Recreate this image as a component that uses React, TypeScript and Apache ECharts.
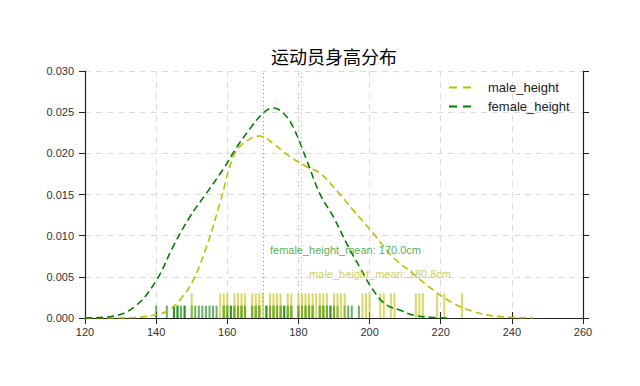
import React, { useEffect, useRef } from "react";
import * as echarts from "echarts";

const title = "运动员身高分布";
const xTicks = [120, 260, 20];
const yTicks = [0, 0.03, 0.005];

const maleX = [120, 130, 137.3, 142.9, 146.7, 150.4, 154.2, 157.9, 161.7, 164.5, 169.2, 172.9, 177.6, 182.3, 186, 190.7, 195.4, 201, 206.6, 212.2, 217.9, 223.5, 229.1, 235.7, 246];
const maleDensity = [0, 0, 0.0002, 0.0008, 0.0022, 0.0046, 0.0087, 0.0139, 0.0196, 0.0212, 0.0221, 0.0212, 0.0196, 0.0184, 0.0176, 0.0155, 0.0131, 0.0103, 0.0074, 0.0054, 0.0034, 0.0018, 0.0008, 0.0002, 0];

const femaleX = [120, 127, 134, 140.1, 144.8, 149.5, 154.2, 158.9, 162.6, 166.4, 170.1, 172.9, 175.7, 178.5, 182.3, 186, 189.8, 193.5, 197.2, 201, 204.7, 208.5, 212.2, 217, 222];
const femaleDensity = [0, 0.00016, 0.0014, 0.0046, 0.0087, 0.0123, 0.0152, 0.0181, 0.0207, 0.023, 0.0249, 0.0255, 0.0249, 0.0232, 0.0192, 0.0151, 0.0123, 0.0091, 0.0062, 0.0034, 0.0016, 0.00097, 0.00036, 0.0001, 0];

const maleRug = [150, 158, 159, 160, 162, 163, 164, 165, 167, 168, 169, 170, 172, 173, 174, 175, 177, 178, 180, 181, 182, 183, 184, 185, 186, 187, 188, 190, 191, 192, 193, 198, 199, 200, 203, 204, 206, 207, 213, 214, 215, 219, 221, 226];
const femaleRug = [140, 143, 145, 145, 146, 146, 147, 148, 148, 150, 151, 152, 153, 154, 155, 156, 157, 159, 159, 160, 160, 161, 161, 162, 162, 163, 163, 164, 164, 165, 165, 167, 167, 168, 168, 169, 169, 171, 171, 172, 172, 173, 173, 174, 174, 175, 175, 176, 176, 177, 177, 178, 178, 180, 180, 181, 181, 182, 182, 183, 183, 184, 184, 186, 186, 187, 187, 188, 188, 189, 189, 190, 190, 191, 193, 194, 195, 197];
const maleRugHeight = 0.003;
const femaleRugHeight = 0.0015;

const femaleMean = 170.0;
const maleMean = 180.8;
const femaleLabelPos = [172, 0.0083];
const maleLabelPos = [183, 0.0053];

const MALE = "#bfbf00";
const FEMALE = "#008000";
const DASH_ICON = "path://M0,0 L8,0 L8,2 L0,2 Z M14,0 L22,0 L22,2 L14,2 Z";

function zip(xs: number[], ys: number[]) {
  return xs.map((x, i) => [x, ys[i]]);
}

function rugSeries(name: string, values: number[], h: number, color: string) {
  return {
    type: "custom",
    name,
    silent: true,
    z: 1,
    data: values.map((v) => [v, h]),
    encode: { x: 0, y: 1 },
    renderItem: (params: any, api: any) => {
      const x = api.value(0);
      const hh = api.value(1);
      const p0 = api.coord([x, 0]);
      const p1 = api.coord([x, hh]);
      return {
        type: "line",
        shape: { x1: p0[0], y1: p0[1], x2: p1[0], y2: p1[1] },
        style: { stroke: color, lineWidth: 2, opacity: 0.6 },
      };
    },
  };
}

export default function App() {
  const ref = useRef<HTMLDivElement>(null);
  useEffect(() => {
    if (!ref.current) return;
    const chart = echarts.init(ref.current, null, { renderer: "svg" });
    const axisFont = { fontFamily: "Liberation Sans, Arial, sans-serif", fontSize: 11, color: "#333" };
    const axisLine = { show: true, lineStyle: { color: "#222", width: 1.2 } };
    const tick = { show: true, length: 6, lineStyle: { color: "#222", width: 1 } };
    const split = { show: true, lineStyle: { color: "#dcdcdc", type: [6, 5], width: 1 } };
    chart.setOption({
      animation: false,
      backgroundColor: "#ffffff",
      title: {
        text: title,
        left: 329,
        top: 42,
        textAlign: "center",
        textStyle: { fontFamily: "Noto Sans CJK SC", fontSize: 18, fontWeight: "normal", color: "#000" },
      },
      legend: {
        orient: "vertical",
        left: 444,
        top: 76,
        itemWidth: 22,
        itemHeight: 12,
        itemGap: 6,
        data: [
          { name: "male_height", icon: DASH_ICON },
          { name: "female_height", icon: DASH_ICON },
        ],
        textStyle: { fontFamily: "Liberation Sans, Arial, sans-serif", fontSize: 13, color: "#222", padding: [0, 0, 0, 12] },
      },
      grid: { left: 85, right: 57, top: 71, bottom: 68 },
      xAxis: [
        {
          type: "value",
          min: xTicks[0],
          max: xTicks[1],
          interval: xTicks[2],
          axisLine,
          axisTick: tick,
          splitLine: split,
          axisLabel: { ...axisFont, margin: 8 },
        },
        {
          type: "value",
          position: "top",
          min: xTicks[0],
          max: xTicks[1],
          interval: xTicks[2],
          axisLine,
          axisTick: tick,
          splitLine: { show: false },
          axisLabel: { show: false },
        },
      ],
      yAxis: [
        {
          type: "value",
          min: yTicks[0],
          max: yTicks[1],
          interval: yTicks[2],
          axisLine,
          axisTick: tick,
          splitLine: split,
          axisLabel: { ...axisFont, margin: 11, formatter: (v: number) => v.toFixed(3) },
        },
        {
          type: "value",
          position: "right",
          min: yTicks[0],
          max: yTicks[1],
          interval: yTicks[2],
          axisLine,
          axisTick: tick,
          splitLine: { show: false },
          axisLabel: { show: false },
        },
      ],
      series: [
        rugSeries("female_rug", femaleRug, femaleRugHeight, FEMALE),
        rugSeries("male_rug", maleRug, maleRugHeight, MALE),
        {
          type: "line",
          name: "male_height",
          data: zip(maleX, maleDensity),
          smooth: 0.4,
          showSymbol: false,
          symbol: "none",
          z: 3,
          color: MALE,
          lineStyle: { color: MALE, width: 1.6, type: [7, 4] },
          markLine: {
            silent: true,
            symbol: "none",
            label: { show: false },
            lineStyle: { color: MALE, type: [1, 3], width: 1, opacity: 0.8 },
            data: [{ xAxis: maleMean }],
          },
        },
        {
          type: "line",
          name: "female_height",
          data: zip(femaleX, femaleDensity),
          smooth: 0.4,
          showSymbol: false,
          symbol: "none",
          z: 3,
          color: FEMALE,
          lineStyle: { color: FEMALE, width: 1.6, type: [7, 4] },
          markLine: {
            silent: true,
            symbol: "none",
            label: { show: false },
            lineStyle: { color: "#3aa03a", type: [1, 3], width: 1, opacity: 0.8 },
            data: [{ xAxis: femaleMean }],
          },
        },
        {
          type: "scatter",
          silent: true,
          symbolSize: 0,
          z: 4,
          data: [
            {
              value: femaleLabelPos,
              label: { show: true, position: "right", distance: 0, formatter: `female_height_mean: ${femaleMean.toFixed(1)}cm`, color: "#2a982a" },
            },
            {
              value: maleLabelPos,
              label: { show: true, position: "right", distance: 0, formatter: `male_height_mean: ${maleMean.toFixed(1)}cm`, color: "#c4c430" },
            },
          ],
          label: { fontFamily: "Liberation Sans, Arial, sans-serif", fontSize: 11 },
        },
      ],
    });
    return () => chart.dispose();
  }, []);
  return <div ref={ref} style={{ width: 640, height: 386, position: "absolute", left: 0, top: 0 }} />;
}
